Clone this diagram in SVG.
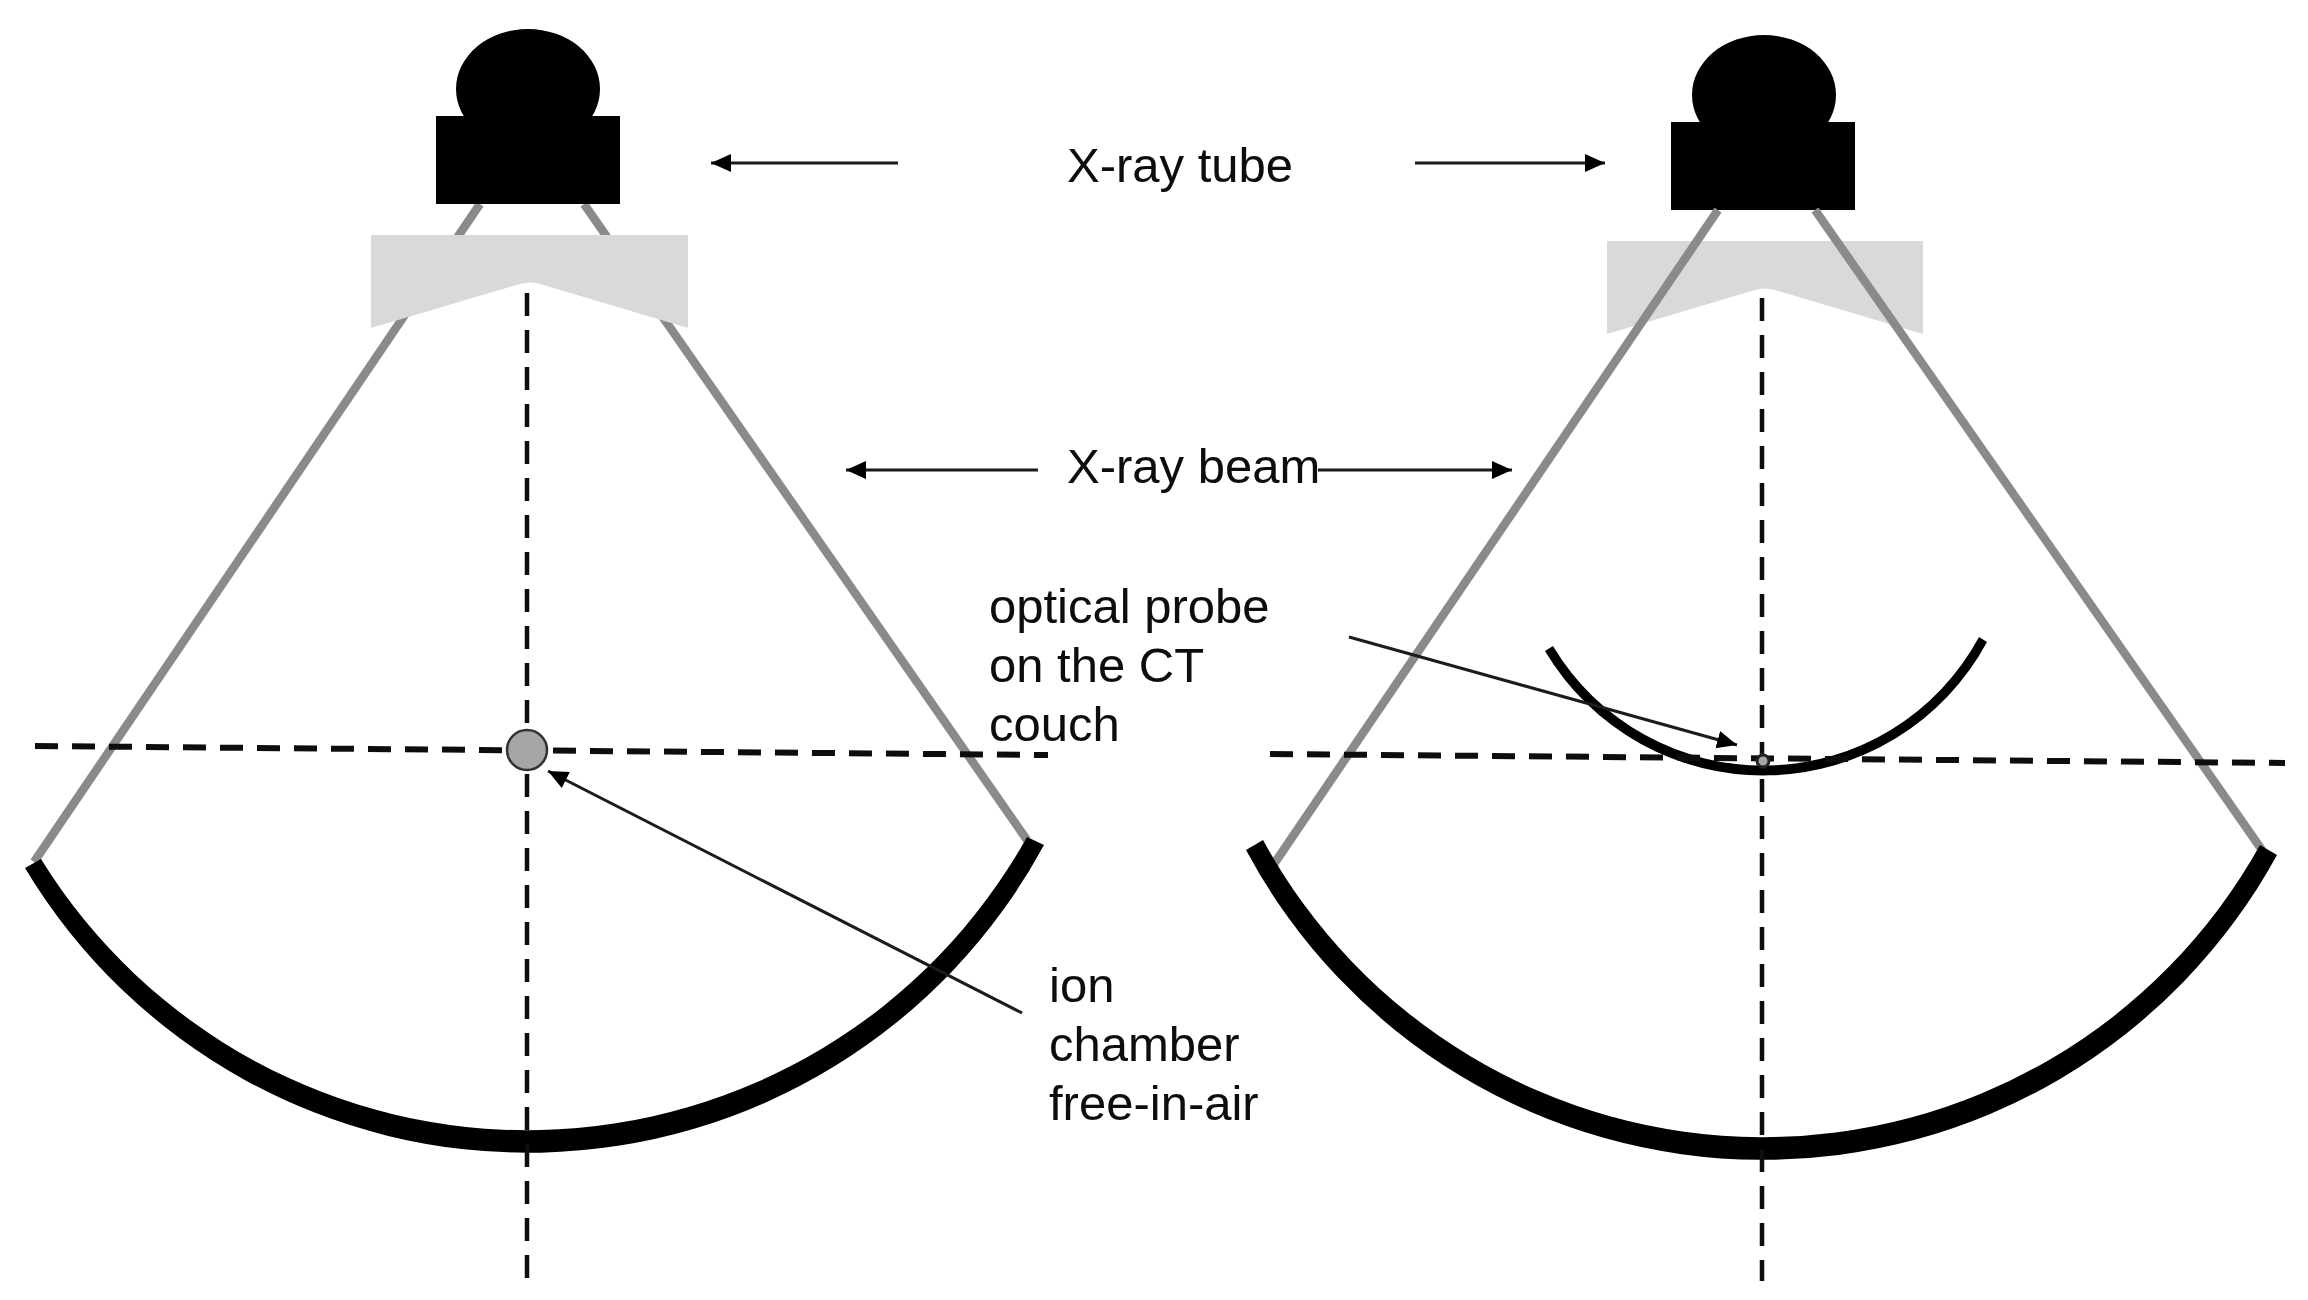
<svg xmlns="http://www.w3.org/2000/svg" width="2308" height="1300" viewBox="0 0 2308 1300">
<style>
.t{font-family:"Liberation Sans",Arial,sans-serif;font-size:49px;fill:#0a0a0a}
.beam{stroke:#8a8a8a;stroke-width:8.5;fill:none}
.dv{stroke:#111;stroke-width:4.5;stroke-dasharray:23 14;fill:none}
.dh{stroke:#111;stroke-width:6;stroke-dasharray:23 14;fill:none}
.ar{stroke:#1a1a1a;stroke-width:3;fill:none;marker-end:url(#a)}
.wedge{fill:#d9d9d9}
</style>
<defs>
<marker id="a" markerUnits="userSpaceOnUse" markerWidth="22" markerHeight="20" refX="20" refY="10" orient="auto"><path d="M0 1L20 10L0 19Z" fill="#000"/></marker>
<filter id="soft" x="0" y="0" width="100%" height="100%"><feGaussianBlur stdDeviation="0.7"/></filter>
</defs>
<rect width="2308" height="1300" fill="#fff"/>
<g filter="url(#soft)">
<g id="beams-left">
<path class="beam" d="M480 204L34 862"/><path class="beam" d="M584 204L1027 840"/>
</g>
<g id="tube-left"><ellipse cx="528" cy="89" rx="72" ry="60"/><rect x="436" y="116" width="184" height="88"/></g>
<g id="wedge-left"><path class="wedge" d="M371 235H688V328L540 284Q530 281 520 284L371 328Z"/></g>
<g id="tube-right"><ellipse cx="1764" cy="95" rx="72" ry="60"/><rect x="1671" y="122" width="184" height="88"/></g>
<g id="wedge-right"><path class="wedge" d="M1607 241H1923V334L1775 290Q1765 287 1755 290L1607 334Z"/></g>
<g id="beams-right">
<path class="beam" d="M1718 210L1274 864"/><path class="beam" d="M1815 210L2262 850"/>
</g>
<g id="detector-left"><path d="M25 868A586.500 586.500 0 0 0 1044 845L1027 837A572 572 0 0 1 41 859Z"/></g>
<g id="detector-right"><path d="M1246 850A586 586 0 0 0 2277 855L2260 845A569 569 0 0 1 1263 840Z"/></g>
<g id="couch"><path d="M1545 651A254 254 0 0 0 1987 642L1979 637A245 245 0 0 1 1553 646Z"/></g>
<g id="connectors">
<path class="dv" d="M527 293V1278"/><path class="dv" d="M1762 298V1281"/>
<path class="dh" d="M35 746L1048 755"/><path class="dh" d="M1270 754L2285 763"/>
<path class="ar" d="M898 163H711"/><path class="ar" d="M1415 163H1605"/>
<path class="ar" d="M1038 470H846"/><path class="ar" d="M1318 470H1512"/>
<path class="ar" d="M1022 1013L548 771"/><path class="ar" d="M1349 637L1737 745"/>
</g>
<g id="ion-chamber"><circle cx="527" cy="750" r="20" fill="#a6a6a6" stroke="#333" stroke-width="2.5"/></g>
<g id="probe"><circle cx="1763" cy="761" r="6" fill="#a6a6a6" stroke="#222" stroke-width="3"/></g>
<g id="labels">
<text class="t" x="1067" y="182">X-ray tube</text>
<text class="t" x="1067" y="483">X-ray beam</text>
<text class="t" x="989" y="623">optical probe</text>
<text class="t" x="989" y="682">on the CT</text>
<text class="t" x="989" y="741">couch</text>
<text class="t" x="1049" y="1002">ion</text>
<text class="t" x="1049" y="1061">chamber</text>
<text class="t" x="1049" y="1120">free-in-air</text>
</g>
</g>
</svg>
